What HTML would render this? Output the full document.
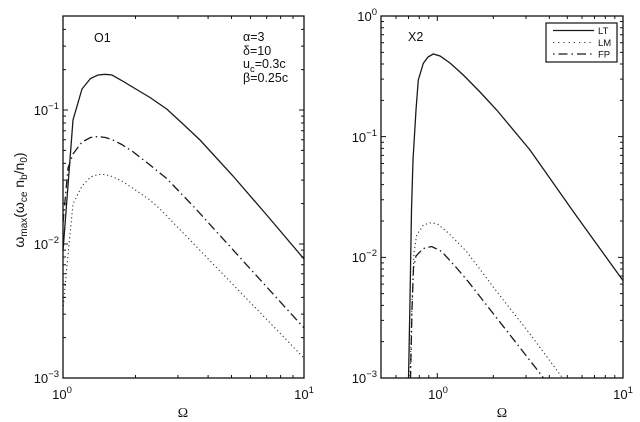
<!DOCTYPE html>
<html><head><meta charset="utf-8"><style>
html,body{margin:0;padding:0;background:#fff;}
svg{display:block;}
text{font-family:"Liberation Sans",sans-serif;fill:#111;}
</style></head><body>
<svg width="640" height="422" viewBox="0 0 640 422" xmlns="http://www.w3.org/2000/svg">
<defs>
<clipPath id="cl"><rect x="63" y="16" width="241" height="362"/></clipPath>
<clipPath id="cr"><rect x="381" y="16" width="242" height="362"/></clipPath>
</defs>
<rect width="640" height="422" fill="#fff"/>

<!-- LEFT PANEL curves -->
<g clip-path="url(#cl)" fill="none" stroke="#1a1a1a">
<polyline stroke-width="1.3" points="63,251 73,120 82,89 90.5,78.5 98,75 105.4,74.3 112,75 121.7,80.5 133.3,87.5 150,97.5 166.7,109 183,124 200,140 233,176 268,216.5 304,259"/>
<polyline stroke-width="1.3" stroke-dasharray="9 3.5 1.5 3.5" points="63,223 68,168 73,154 82,142 90.5,137.5 98,136.5 105.4,137.5 112,139.5 121.7,144.5 133.3,152 150,165 166.7,178.5 195,208 304,328"/>
<polyline stroke-width="1.1" stroke="#333" stroke-dasharray="1.2 2.8" points="63,310 67,265 73,204 82,186 90.5,177 98,174.5 105.4,174.5 112,176.5 121.7,181 133.3,188.5 150,200 160,209 304,358"/>
</g>

<!-- LEFT axes box -->
<rect x="63" y="16" width="241" height="362" fill="none" stroke="#111" stroke-width="1.3"/>
<path fill="none" stroke="#111" stroke-width="1" d="
M135.5 378v-3M178 378v-3M208.1 378v-3M231.5 378v-3M250.5 378v-3M266.7 378v-3M280.6 378v-3M293 378v-3
M135.5 16v3M178 16v3M208.1 16v3M231.5 16v3M250.5 16v3M266.7 16v3M280.6 16v3M293 16v3
M63 337.66h3M63 314.07h3M63 297.32h3M63 284.34h3M63 273.73h3M63 264.76h3M63 256.99h3M63 250.13h3
M63 203.66h3M63 180.07h3M63 163.32h3M63 150.34h3M63 139.73h3M63 130.76h3M63 122.99h3M63 116.13h3
M63 69.66h3M63 46.07h3M63 29.32h3
M304 337.66h-3M304 314.07h-3M304 297.32h-3M304 284.34h-3M304 273.73h-3M304 264.76h-3M304 256.99h-3M304 250.13h-3
M304 203.66h-3M304 180.07h-3M304 163.32h-3M304 150.34h-3M304 139.73h-3M304 130.76h-3M304 122.99h-3M304 116.13h-3
M304 69.66h-3M304 46.07h-3M304 29.32h-3
M63 244h5M63 110h5M304 244h-5M304 110h-5"/>

<!-- LEFT tick labels -->
<g font-size="13">
<text x="59" y="115" text-anchor="end">10<tspan font-size="9.5" dy="-6">−1</tspan></text>
<text x="59" y="249" text-anchor="end">10<tspan font-size="9.5" dy="-6">−2</tspan></text>
<text x="59" y="383" text-anchor="end">10<tspan font-size="9.5" dy="-6">−3</tspan></text>
<text x="62" y="399" text-anchor="middle">10<tspan font-size="9.5" dy="-6">0</tspan></text>
<text x="304" y="399" text-anchor="middle">10<tspan font-size="9.5" dy="-6">1</tspan></text>
</g>
<text x="183" y="417" text-anchor="middle" font-size="14" style="font-family:'Liberation Serif',serif">Ω</text>
<text transform="translate(24,200) rotate(-90)" text-anchor="middle" font-size="14">ω<tspan font-size="10" dy="3">max</tspan><tspan dy="-3">(ω</tspan><tspan font-size="10" dy="3">ce</tspan><tspan dy="-3"> n</tspan><tspan font-size="10" dy="3">b</tspan><tspan dy="-3">/n</tspan><tspan font-size="10" dy="3">0</tspan><tspan dy="-3">)</tspan></text>

<text x="94" y="42" font-size="12.5">O1</text>
<g font-size="12.5">
<text x="243" y="41">α=3</text>
<text x="243" y="55">δ=10</text>
<text x="243" y="68">u<tspan font-size="9.5" dy="4">c</tspan><tspan dy="-4">=0.3c</tspan></text>
<text x="243" y="82">β=0.25c</text>
</g>

<!-- RIGHT PANEL curves -->
<g clip-path="url(#cr)" fill="none" stroke="#1a1a1a">
<polyline stroke-width="1.3" points="408.5,380 410,300 411.5,210 413,160 416,110 418.3,80 423.3,63.3 428,57 433.3,54 440,56 450,63 463.3,75 480,92 496.7,110 530,150 575,214 623.3,281"/>
<polyline stroke-width="1.1" stroke="#333" stroke-dasharray="1.2 2.8" points="410,380 411.5,320 413,276 414,252 416.7,235 423.3,225 431.7,222.5 438.3,224.5 448.3,233 458.3,243 466.7,251.7 496.7,291.5 530,334 564,380"/>
<polyline stroke-width="1.3" stroke-dasharray="9 3.5 1.5 3.5" points="410.5,380 412,310 413.5,268 416,256 423.3,248.5 431.7,246.5 441.7,251.5 456.7,268 468.3,281.7 496.7,318 540,373.3 545,380"/>
</g>

<rect x="381" y="16" width="242" height="362" fill="none" stroke="#111" stroke-width="1.3"/>
<path fill="none" stroke="#111" stroke-width="1" d="
M396 378v-3M408.5 378v-3M419.3 378v-3M428.8 378v-3M493.3 378v-3M526 378v-3M549.3 378v-3M567.3 378v-3M582 378v-3M594.5 378v-3M605.3 378v-3M614.8 378v-3
M396 16v3M408.5 16v3M419.3 16v3M428.8 16v3M493.3 16v3M526 16v3M549.3 16v3M567.3 16v3M582 16v3M594.5 16v3M605.3 16v3M614.8 16v3
M437.3 378v-5M437.3 16v5
M381 341.68h3M381 320.43h3M381 305.35h3M381 293.66h3M381 284.11h3M381 276.03h3M381 269.03h3M381 262.86h3
M381 221.01h3M381 199.76h3M381 184.68h3M381 172.99h3M381 163.44h3M381 155.36h3M381 148.36h3M381 142.19h3
M381 100.35h3M381 79.1h3M381 64.02h3M381 52.33h3M381 42.78h3M381 34.7h3M381 27.7h3M381 21.53h3
M623 341.68h-3M623 320.43h-3M623 305.35h-3M623 293.66h-3M623 284.11h-3M623 276.03h-3M623 269.03h-3M623 262.86h-3
M623 221.01h-3M623 199.76h-3M623 184.68h-3M623 172.99h-3M623 163.44h-3M623 155.36h-3M623 148.36h-3M623 142.19h-3
M623 100.35h-3M623 79.1h-3M623 64.02h-3M623 52.33h-3M623 42.78h-3M623 34.7h-3M623 27.7h-3M623 21.53h-3
M381 257.33h5M381 136.67h5M623 257.33h-5M623 136.67h-5"/>

<g font-size="13">
<text x="377" y="21" text-anchor="end">10<tspan font-size="9.5" dy="-6">0</tspan></text>
<text x="377" y="142" text-anchor="end">10<tspan font-size="9.5" dy="-6">−1</tspan></text>
<text x="377" y="262" text-anchor="end">10<tspan font-size="9.5" dy="-6">−2</tspan></text>
<text x="377" y="383" text-anchor="end">10<tspan font-size="9.5" dy="-6">−3</tspan></text>
<text x="438" y="399" text-anchor="middle">10<tspan font-size="9.5" dy="-6">0</tspan></text>
<text x="623" y="399" text-anchor="middle">10<tspan font-size="9.5" dy="-6">1</tspan></text>
</g>
<text x="502" y="417" text-anchor="middle" font-size="14" style="font-family:'Liberation Serif',serif">Ω</text>
<text x="408" y="41" font-size="12.5">X2</text>

<!-- legend -->
<rect x="546" y="23" width="71" height="39" fill="#fff" stroke="#111" stroke-width="1.2"/>
<g fill="none" stroke="#1a1a1a">
<line x1="553" y1="30.5" x2="594" y2="30.5" stroke-width="1.3"/>
<line x1="553" y1="42.5" x2="594" y2="42.5" stroke-width="1.1" stroke="#333" stroke-dasharray="1.2 4"/>
<line x1="553" y1="54" x2="594" y2="54" stroke-width="1.3" stroke-dasharray="1.5 4 9 4"/>
</g>
<g font-size="9.5">
<text x="598" y="34">LT</text>
<text x="598" y="46">LM</text>
<text x="598" y="57.5">FP</text>
</g>
</svg>
</body></html>
